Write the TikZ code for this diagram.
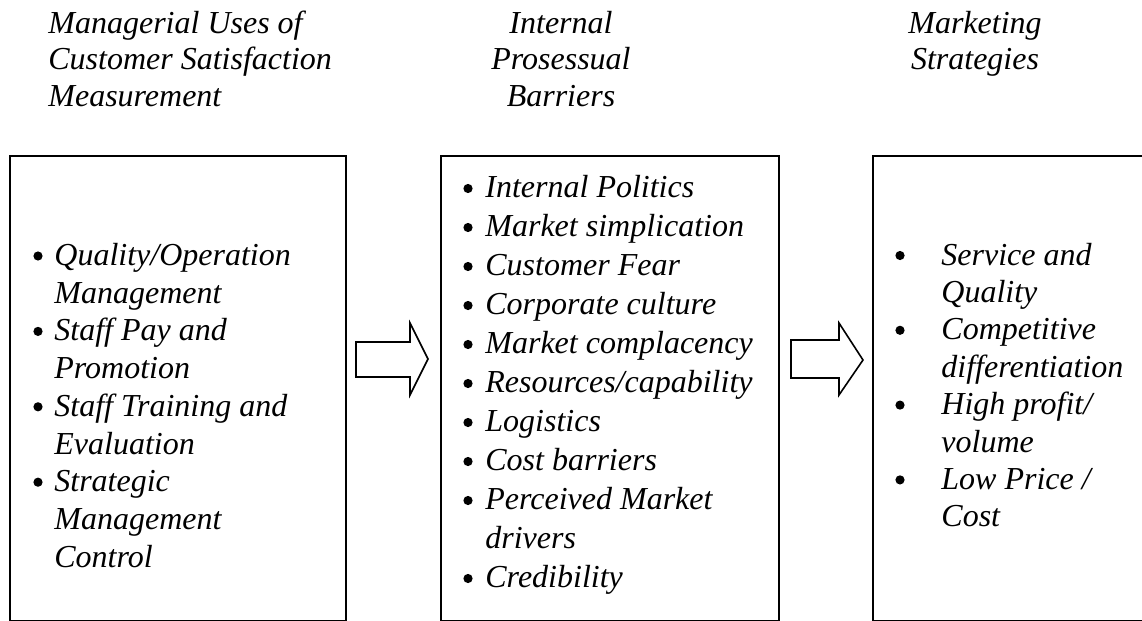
\documentclass[tikz,border=0pt]{standalone}
\usepackage{fontspec}
\setmainfont{Liberation Serif}
\begin{document}
\begin{tikzpicture}[x=0.5pt,y=-0.5pt,
  box/.style={draw=black,line width=1pt,inner sep=0pt,anchor=north west},
  barrow/.style={draw=black,line width=0.8pt,line join=miter},
  hdr/.style={inner sep=0pt,font=\itshape\fontsize{16pt}{18.25pt}\selectfont},
  ione/.style={inner sep=0pt,anchor=base west,font=\itshape\fontsize{16pt}{18.85pt}\selectfont},
  itwo/.style={inner sep=0pt,anchor=base west,font=\itshape\fontsize{16pt}{19.5pt}\selectfont},
  ithree/.style={inner sep=0pt,anchor=base west,font=\itshape\fontsize{16pt}{18.7pt}\selectfont},
  bul/.style={circle,fill=black,inner sep=0pt,minimum size=4.6pt}]
\useasboundingbox (0,0) rectangle (1142,621);
\clip (0,0) rectangle (1142,621);
% headers
\node[hdr,anchor=base west] (h1) at (48,33) {\parbox[t]{300pt}{Managerial Uses of\\Customer Satisfaction\\Measurement}};
\node[hdr,anchor=base] (h2) at (561,33) {\parbox[t]{120pt}{\centering Internal\\Prosessual\\Barriers}};
\node[hdr,anchor=base] (h3) at (975,33) {\parbox[t]{120pt}{\centering Marketing\\Strategies}};
% boxes
\node[box,minimum width=168pt,minimum height=232.5pt] (B1) at (9,155) {};
\node[box,minimum width=169pt,minimum height=232.5pt] (B2) at (440,155) {};
\node[box,minimum width=160pt,minimum height=232.5pt] (B3) at (872,155) {};
% box 1 items
\foreach \n/\y in {a/265.5,b/340.9,c/416.3,d/491.7}{\node[bul] (b1\n) at (38,\y-9.5) {};}
\node[ione] (t1a) at (54,265.5) {\parbox[t]{150pt}{Quality/Operation\\Management}};
\node[ione] (t1b) at (54,340.9) {\parbox[t]{150pt}{Staff Pay and\\Promotion}};
\node[ione] (t1c) at (54,416.3) {\parbox[t]{150pt}{Staff Training and\\Evaluation}};
\node[ione] (t1d) at (54,491.7) {\parbox[t]{150pt}{Strategic\\Management\\Control}};
% box 2 items
\foreach \n/\y in {a/197.5,b/236.5,c/275.5,d/314.5,e/353.5,f/392.5,g/431.5,h/470.5,i/509.5,j/587.5}{\node[bul] (b2\n) at (468,\y-9) {};}
\node[itwo] (t2a) at (485,197.5) {Internal Politics};
\node[itwo] (t2b) at (485,236.5) {Market simplication};
\node[itwo] (t2c) at (485,275.5) {Customer Fear};
\node[itwo] (t2d) at (485,314.5) {Corporate culture};
\node[itwo] (t2e) at (485,353.5) {Market complacency};
\node[itwo] (t2f) at (485,392.5) {Resources/capability};
\node[itwo] (t2g) at (485,431.5) {Logistics};
\node[itwo] (t2h) at (485,470.5) {Cost barriers};
\node[itwo] (t2i) at (485,509.5) {\parbox[t]{150pt}{Perceived Market\\drivers}};
\node[itwo] (t2j) at (485,587.5) {Credibility};
% box 3 items
\foreach \n/\y in {a/265,b/339.8,c/414.6,d/489.4}{\node[bul] (b3\n) at (900,\y-9.5) {};}
\node[ithree] (t3a) at (941,265) {\parbox[t]{120pt}{Service and\\Quality}};
\node[ithree] (t3b) at (941,339.8) {\parbox[t]{120pt}{Competitive\\differentiation}};
\node[ithree] (t3c) at (941,414.6) {\parbox[t]{120pt}{High profit/\\volume}};
\node[ithree] (t3d) at (941,489.4) {\parbox[t]{120pt}{Low Price /\\Cost}};
% block arrows
\draw[barrow] (356,342) -- (410,342) -- (410,323) -- (428,359) -- (410,395) -- (410,377) -- (356,377) -- cycle;
\draw[barrow] (791,340) -- (839,340) -- (839,323) -- (863,360) -- (839,395) -- (839,378) -- (791,378) -- cycle;
\end{tikzpicture}
\end{document}
